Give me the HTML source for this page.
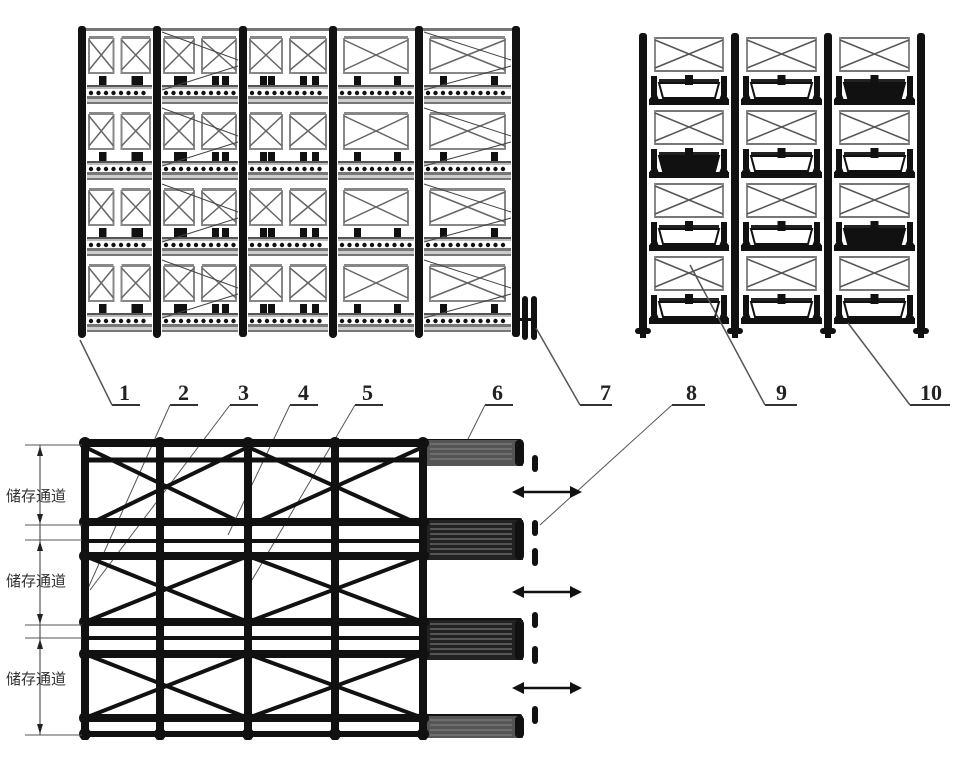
<!DOCTYPE html>
<html><head><meta charset="utf-8"><style>
html,body{margin:0;padding:0;background:#fff;}
svg{display:block;}
.n{font-family:"Liberation Serif",serif;font-size:22px;font-weight:bold;fill:#222;}
.c{font-family:"Liberation Sans","Noto Sans CJK SC",sans-serif;font-size:15px;fill:#333;}
</style></head><body>
<svg id="s" width="973" height="759" viewBox="0 0 973 759" xmlns="http://www.w3.org/2000/svg">
<g id="g"></g>
<text class="n" x="119" y="400">1</text>
<text class="n" x="178" y="400">2</text>
<text class="n" x="238" y="400">3</text>
<text class="n" x="298" y="400">4</text>
<text class="n" x="362" y="400">5</text>
<text class="n" x="492" y="400">6</text>
<text class="n" x="600" y="400">7</text>
<text class="n" x="686" y="400">8</text>
<text class="n" x="776" y="400">9</text>
<text class="n" x="920" y="400">10</text>
<text class="c" x="6" y="501">储存通道</text>
<text class="c" x="6" y="586">储存通道</text>
<text class="c" x="6" y="684">储存通道</text>
</svg>
<script>
var h='';
function L(x1,y1,x2,y2,w,c){h+='<line x1="'+x1+'" y1="'+y1+'" x2="'+x2+'" y2="'+y2+'" stroke="'+(c||'#111')+'" stroke-width="'+w+'"/>';}
function R(x,y,w,hh,c,rx){h+='<rect x="'+x+'" y="'+y+'" width="'+w+'" height="'+hh+'" fill="'+(c||'#111')+'" rx="'+(rx||0)+'"/>';}
function C(x,y,r,c){h+='<circle cx="'+x+'" cy="'+y+'" r="'+r+'" fill="'+(c||'#111')+'"/>';}
// ---- top-left rack
var P=[82,157,243,333,419,516];
for(var t=0;t<4;t++){
 var y0=30+t*76;
 for(var b=0;b<5;b++){
  var xa=P[b]+5,xb=P[b+1]-5;
  // sub boxes
  var mid=(xa+xb)/2;
  var subs=(b<3)?[[xa+2,mid-6],[mid+2,xb-2]]:[[xa+6,xb-6]];
  subs.forEach(function(s){
   R(s[0],y0+6,s[1]-s[0],3,'#888');
   L(s[0],y0+8,s[0],y0+44,2,'#888');L(s[1],y0+8,s[1],y0+44,2,'#888');
   L(s[0],y0+10,s[1],y0+40,1.5,'#666');L(s[0],y0+40,s[1],y0+10,1.5,'#666');
   R(s[0],y0+42,s[1]-s[0],2,'#888');
   R(s[0]+10,y0+46,7,9,'#111');R(s[1]-14,y0+46,7,9,'#111');
  });
  R(xa,y0+55,xb-xa,2,'#555');
  R(xa,y0+57,xb-xa,2,'#bbb');
  for(var x=xa+4;x<xb-2;x+=7.5)C(x,y0+63,2.2);
  R(xa,y0+66,xb-xa,3,'#777');
  R(xa,y0+69,xb-xa,3,'#ccc');
  R(xa,y0+72,xb-xa,2,'#777');
 }
 L(P[1]+5,y0+2,P[2]-5,y0+30,1,'#444');L(P[1]+5,y0+60,P[2]-5,y0+36,1,'#444');
 L(P[4]+5,y0+2,P[5]-5,y0+30,1,'#444');L(P[4]+5,y0+60,P[5]-5,y0+36,1,'#444');
}
R(86,28,428,3,'#777');
P.forEach(function(x,i){R(x-4,26,8,311,'#111',3);if(i!=2&&i!=5)C(x,334,4);});
R(522,296,6,44,'#111',3);R(531,296,6,44,'#111',3);R(518,318,16,3,'#111');
// ---- top-right rack
var Q=[643,735,828,921];
for(var t=0;t<4;t++){
 var y0=34+t*73;
 for(var b=0;b<3;b++){
  var xa=Q[b]+6,xb=Q[b+1]-6;
  R(xa+6,y0+3,xb-xa-12,2,'#777');
  L(xa+6,y0+3,xa+6,y0+38,2,'#888');L(xb-6,y0+3,xb-6,y0+38,2,'#888');
  L(xa+6,y0+6,xb-6,y0+34,1.5,'#555');L(xa+6,y0+34,xb-6,y0+6,1.5,'#555');
  R(xa+6,y0+36,xb-xa-12,2,'#777');
  R(xa+2,y0+42,6,20,'#111');R(xb-8,y0+42,6,20,'#111');
  R(xa+10,y0+45,xb-xa-20,3,'#222');
  var dark=(t==0&&b==2)||(t==1&&b==0)||(t==2&&b==2);
  h+='<path d="M'+(xa+10)+' '+(y0+49)+' L'+(xb-10)+' '+(y0+49)+' L'+(xb-14)+' '+(y0+64)+' L'+(xa+14)+' '+(y0+64)+' Z" fill="'+(dark?'#111':'#fff')+'" stroke="#111" stroke-width="2"/>';
  R((xa+xb)/2-4,y0+41,8,10,'#111');
  h+='<path d="M'+(xa)+' '+(y0+66)+' l6 -10 l4 10z M'+(xb)+' '+(y0+66)+' l-6 -10 l-4 10z" fill="#111"/>';
  R(xa,y0+65,xb-xa,6,'#111');
 }
}
Q.forEach(function(x){R(x-4,33,8,298,'#111',3);R(x-8,328,16,6,'#111',3);R(x-3,334,6,4,'#111');});
// ---- leader lines
function U(x1,x2){L(x1,405,x2,405,2,'#333');}
U(112,140);L(112,405,80,340,1.5,'#555');
U(170,198);L(170,405,85,595,1,'#555');
U(230,258);L(230,405,90,590,1,'#555');
U(290,318);L(290,405,228,535,1,'#555');
U(355,383);L(355,405,252,580,1,'#555');
U(485,513);L(485,405,465,445,1,'#555');
U(580,612);L(580,405,536,328,1.5,'#555');
U(672,705);L(672,405,540,525,1,'#555');
U(765,797);L(765,405,690,265,1.5,'#555');
U(910,950);L(910,405,848,323,1.5,'#555');
// ---- bottom plan
var V=[85,160,248,335,423];
var bars=[[443,8],[460,5],[522,8],[541,4],[556,8],[622,8],[638,4],[654,8],[718,8],[734,6]];
bars.forEach(function(b){R(82,b[0]-b[1]/2,440,b[1],'#111',2);});
// right dark ends
[[440,466],[520,560],[620,660],[716,738]].forEach(function(r,i){
 R(423,r[0],100,r[1]-r[0],(i==0||i==3)?'#555':'#222');
 R(515,r[0],9,r[1]-r[0],'#111',4);
 for(var y=r[0]+4;y<r[1]-2;y+=5)L(430,y,512,y,1,'#888');
});
// X braces
[[447,526],[556,622],[654,718]].forEach(function(c){
 [[0,2],[2,4]].forEach(function(p){
  L(V[p[0]],c[0],V[p[1]],c[1],4);L(V[p[0]],c[1],V[p[1]],c[0],4);
 });
});
V.forEach(function(x){R(x-4,438,8,302,'#111',2);});
[443,522,556,622,654,718,734].forEach(function(y){V.forEach(function(x){C(x,y,6);});});
// dashes
[[455,472],[520,536],[548,566],[612,628],[646,664],[706,724]].forEach(function(d){R(532,d[0],6,d[1]-d[0],'#111',3);});
// arrows
function A(y){L(522,y,572,y,2.5);h+='<path d="M512 '+y+' l12 -6 l0 12z M582 '+y+' l-12 -6 l0 12z" fill="#111"/>';}
A(492);A(592);A(688);
// dimension
L(40,445,40,735,1,'#333');
[445,525,540,625,638,735].forEach(function(y){L(25,y,82,y,1,'#555');});
[[445,525],[540,625],[638,735]].forEach(function(d){
 h+='<path d="M40 '+(d[0]+1)+' l-3 10 l6 0z M40 '+(d[1]-1)+' l-3 -10 l6 0z" fill="#222"/>';
});
document.getElementById('g').innerHTML=h;
</script>
</body></html>
